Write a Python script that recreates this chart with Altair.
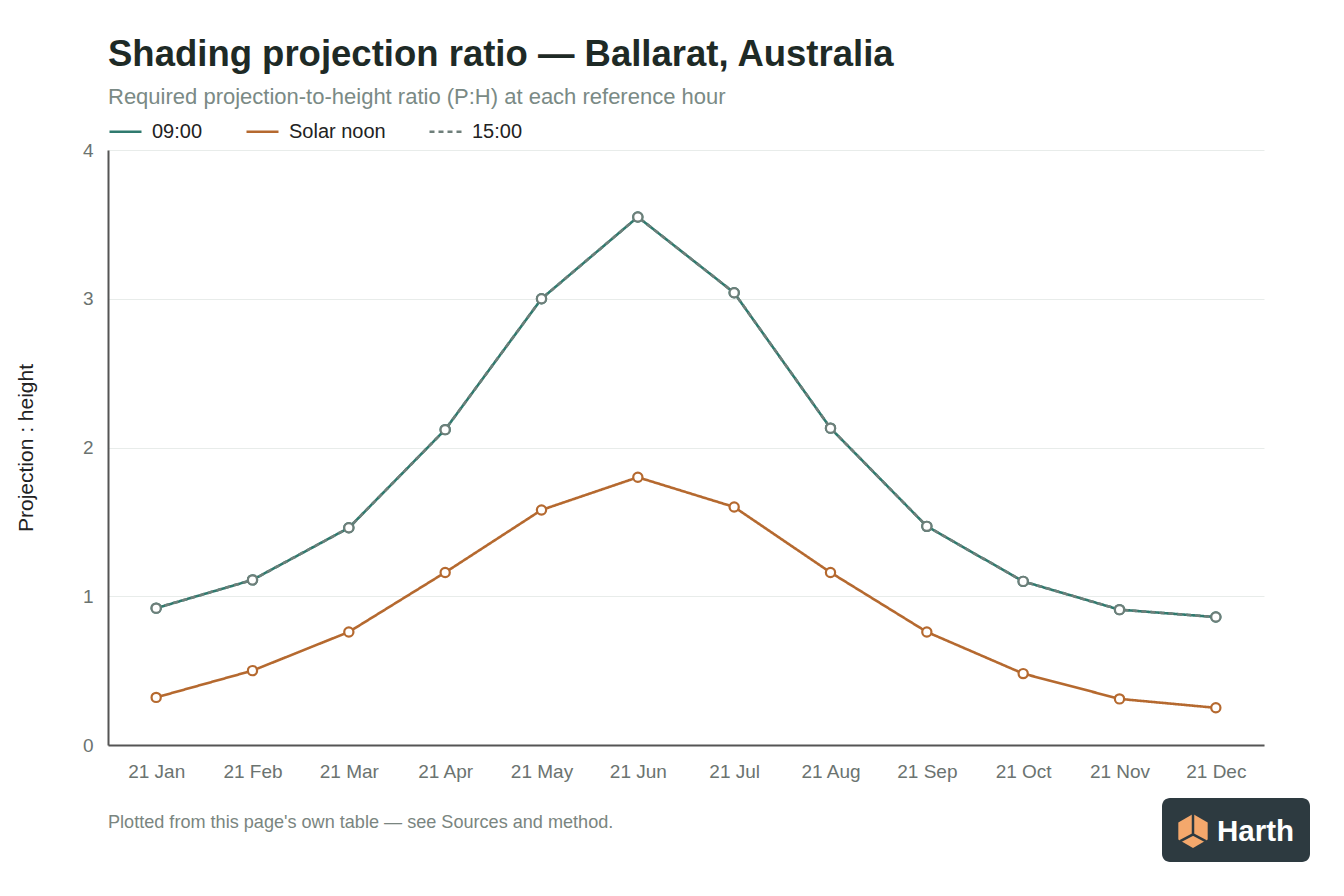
import altair as alt
import pandas as pd

months = ["21 Jan", "21 Feb", "21 Mar", "21 Apr", "21 May", "21 Jun",
          "21 Jul", "21 Aug", "21 Sep", "21 Oct", "21 Nov", "21 Dec"]
am_values = [0.92, 1.11, 1.46, 2.12, 3.00, 3.55, 3.04, 2.13, 1.47, 1.10, 0.91, 0.86]
noon_values = [0.32, 0.50, 0.76, 1.16, 1.58, 1.80, 1.60, 1.16, 0.76, 0.48, 0.31, 0.25]
pm_values = [0.92, 1.11, 1.46, 2.12, 3.00, 3.55, 3.04, 2.13, 1.47, 1.10, 0.91, 0.86]
series_names = ["09:00", "Solar noon", "15:00"]
series_colors = ["#2f7a6e", "#b5692f", "#6e7f7a"]
series_dash = [[1, 0], [1, 0], [5, 4]]
y_ticks = [0, 1, 2, 3, 4]

rows = []
for name, vals in zip(series_names, [am_values, noon_values, pm_values]):
    for i, (m, v) in enumerate(zip(months, vals)):
        rows.append({"month": m, "value": v, "series": name, "order": i})
df = pd.DataFrame(rows)

FONT = "Liberation Sans"

x_enc = alt.X("month:N", sort=months, scale=alt.Scale(type="point", padding=0.5),
              axis=alt.Axis(title=None, labelAngle=0, labelPadding=17, labelFontSize=19,
                            labelColor="#6b7370", domainColor="#555", domainWidth=2,
                            ticks=False, grid=False))
y_enc = alt.Y("value:Q", scale=alt.Scale(domain=[0, 4], nice=False),
              axis=alt.Axis(title="Projection : height", values=y_ticks, format="d",
                            labelFontSize=19, labelColor="#6b7370", labelPadding=15,
                            titleFontSize=21, titleFontWeight="normal", titleColor="#222",
                            titlePadding=46, domainColor="#555", domainWidth=2,
                            ticks=False, gridColor="#e8ecea", gridWidth=1))

legend = alt.Legend(title=None, orient="top", direction="horizontal",
                    symbolType="stroke", symbolSize=1024,
                    symbolStrokeWidth=2.5, labelFontSize=20,
                    labelColor="#222", columnPadding=38,
                    labelOffset=9, offset=8, padding=0)

lines = alt.Chart(df).mark_line(strokeWidth=2.6).encode(
    x=x_enc, y=y_enc,
    color=alt.Color("series:N", sort=series_names,
                    scale=alt.Scale(domain=series_names, range=series_colors),
                    legend=legend),
    strokeDash=alt.StrokeDash("series:N", sort=series_names,
                              scale=alt.Scale(domain=series_names, range=series_dash),
                              legend=legend),
    order="order:Q",
)

points = alt.Chart(df).mark_point(filled=False, fill="white", size=85, strokeWidth=2.2,
                                  opacity=1).encode(
    x=alt.X("month:N", sort=months), y="value:Q",
    stroke=alt.Stroke("series:N", scale=alt.Scale(domain=series_names,
                                                  range=series_colors),
                      legend=None),
)

footer_df = pd.DataFrame({"t": ["Plotted from this page's own table \u2014 see Sources and method."]})
footer = alt.Chart(footer_df).mark_text(align="left", baseline="middle", fontSize=18.1,
                                        color="#7a8580", font=FONT).encode(
    x=alt.value(0), y=alt.value(673), text="t:N")

logo_df = pd.DataFrame({"t": ["Harth"]})
logo_bg = alt.Chart(logo_df).mark_rect(color="#2d3a40", cornerRadius=8).encode(
    x=alt.value(1054), x2=alt.value(1202), y=alt.value(648), y2=alt.value(712))
hexagon = "M0,-1 L0.866,-0.5 L0.866,0.5 L0,1 L-0.866,0.5 L-0.866,-0.5 Z"
logo_icon = alt.Chart(logo_df).mark_point(shape=hexagon, filled=True, color="#f4a86c",
                                          size=1150, opacity=1).encode(
    x=alt.value(1085), y=alt.value(681))
inner = "M0,-1 L0,0.2 L-0.75,0.6 M0,0.2 L0.75,0.6"
logo_lines = alt.Chart(logo_df).mark_point(shape=inner, filled=False, stroke="#2d3a40",
                                           strokeWidth=2.5, size=1150, opacity=1).encode(
    x=alt.value(1085), y=alt.value(681))
logo_text = alt.Chart(logo_df).mark_text(align="left", baseline="middle", fontSize=29.5,
                                         fontWeight="bold", color="white", font=FONT).encode(
    x=alt.value(1109), y=alt.value(682), text="t:N")

chart = alt.layer(lines, points, footer, logo_bg, logo_icon, logo_lines, logo_text).properties(
    width=1156, height=595,
    title=alt.TitleParams(
        "Shading projection ratio \u2014 Ballarat, Australia",
        subtitle="Required projection-to-height ratio (P:H) at each reference hour",
        anchor="start", frame="group", fontSize=36.5, fontWeight=600, color="#1e2a26",
        subtitleFontSize=22, subtitleColor="#7a8a85", subtitlePadding=14, offset=6,
        font=FONT, subtitleFont=FONT),
    padding={"left": 100, "top": 142, "right": 60, "bottom": 120},
    autosize=alt.AutoSizeParams(type="none"),
).configure(font=FONT).configure_view(stroke=None).configure_axis(
    labelFont=FONT, titleFont=FONT).configure_legend(labelFont=FONT)

chart.save("out.html", embed_options={"renderer": "svg", "actions": False})
